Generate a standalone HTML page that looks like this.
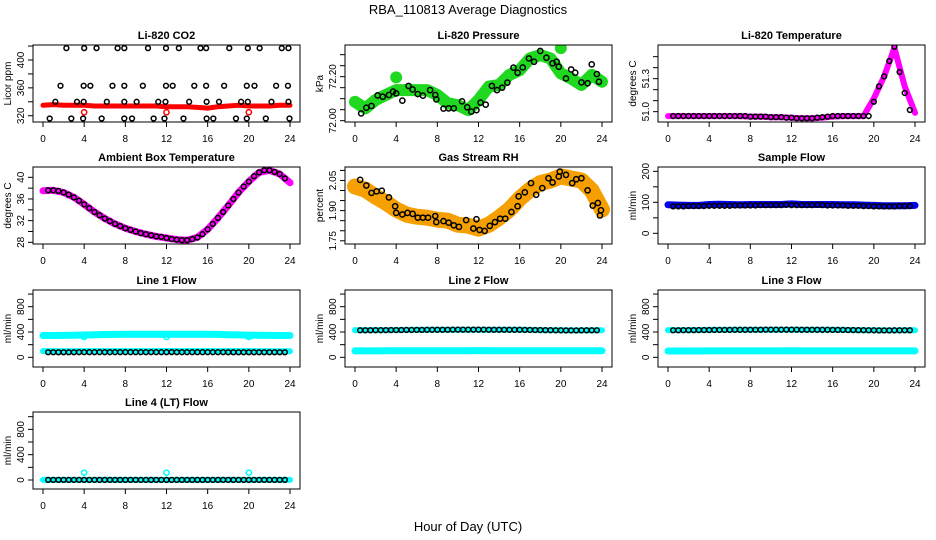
<!DOCTYPE html>
<html><head><meta charset="utf-8">
<style>
html,body{margin:0;padding:0;background:#fff;}
svg{display:block;font-family:"Liberation Sans",Arial,sans-serif;}
</style></head>
<body>
<svg id="chart" width="936" height="540" viewBox="0 0 936 540" xmlns="http://www.w3.org/2000/svg">
<rect x="0" y="0" width="936" height="540" fill="#fff"/>
<text x="468" y="14" text-anchor="middle" font-size="13">RBA_110813  Average Diagnostics</text>
<text x="468" y="531" text-anchor="middle" font-size="13">Hour of Day (UTC)</text>
</svg>
<script>
// ---------- data ----------
const xTicks = [0,4,8,12,16,20,24];
// CO2
const co2Band = [335,336,335,335,335,334,334,334,334,334,334,334,333,333,333,332,331,333,334,335,334,334,334,335,335];
const co2CircleHours = [2.27,4.0,5.2,7.25,7.9,10.2,11.95,13.2,15.3,15.85,18.1,19.9,21.05,23.2,23.85,
 1.7,3.95,4.6,6.75,7.9,9.7,11.95,12.6,14.7,15.85,17.6,19.8,20.55,22.65,23.8,
 1.2,3.3,3.95,6.2,7.9,9.1,11.2,11.9,14.2,15.9,17.1,19.25,19.9,22.2,23.85,
 0.65,2.75,3.9,5.7,7.9,8.65,10.75,11.8,13.65,15.9,16.55,18.75,19.8,21.65,23.95];
const co2CircleValues = [417,417,417,417,417,417,417,417,417,417,417,417,417,417,417,
 363,363,363,363,363,363,363,363,363,363,363,363,363,363,363,
 340,340,340,340,340,340,340,340,340,340,340,340,340,340,340,
 316,316,316,316,316,316,316,316,316,316,316,316,316,316,316];
const co2OutlierHours = [4,12,20];
const co2OutlierValues = [325,325,325];
// Pressure
const presBand = [72.086,72.056,72.094,72.117,72.139,72.139,72.139,72.139,72.117,72.079,72.071,72.048,72.094,72.155,72.162,72.208,72.230,72.283,72.298,72.283,72.215,72.192,72.162,72.208,72.177];
const presBlobHours = [4,20];
const presBlobValues = [72.197,72.33];
const presCircleHours = [0.6,1.1,1.6,2.2,2.7,3.3,3.7,4.0,4.6,5.2,5.6,6.1,6.6,7.3,7.8,7.9,8.6,9.1,9.6,10.4,10.9,11.3,11.8,12.2,12.7,13.3,13.8,14.3,14.8,15.4,15.8,16.3,16.9,17.4,18.0,18.6,19.2,19.6,19.8,20.5,21.0,21.4,22.0,22.6,23.0,23.5,23.7];
const presCircleValues = [72.033,72.059,72.067,72.115,72.109,72.117,72.132,72.124,72.091,72.158,72.142,72.121,72.114,72.139,72.117,72.097,72.055,72.056,72.056,72.088,72.061,72.041,72.048,72.082,72.073,72.158,72.139,72.150,72.173,72.241,72.218,72.242,72.283,72.268,72.317,72.286,72.261,72.268,72.245,72.192,72.233,72.218,72.174,72.170,72.256,72.212,72.177];
// Li-820 temperature
const tempBand = [50.96,50.96,50.96,50.96,50.96,50.96,50.96,50.96,50.955,50.955,50.95,50.95,50.945,50.94,50.94,50.945,50.955,50.96,50.96,50.96,51.12,51.32,51.58,51.23,50.99];
const tempCircles = [50.96,50.96,50.96,50.96,50.96,50.96,50.96,50.96,50.96,50.96,50.96,50.96,50.96,50.96,50.96,50.955,50.955,50.955,50.955,50.95,50.95,50.95,50.945,50.945,50.94,50.94,50.94,50.94,50.945,50.95,50.955,50.96,50.96,50.96,50.96,50.96,50.96,50.96,50.96,51.09,51.23,51.32,51.46,51.59,51.36,51.17,51.015];
// Ambient box temperature
const ambBand = [37.5,37.6,37.2,36.3,35.0,33.6,32.4,31.4,30.6,30.0,29.5,29.1,28.8,28.5,28.4,28.9,30.4,32.5,34.8,37.2,39.2,40.9,41.3,40.6,39.0];
const ambCircles = [37.6,37.6,37.5,37.2,36.8,36.3,35.7,35.0,34.3,33.6,33.0,32.4,31.9,31.4,31.0,30.6,30.3,30.0,29.7,29.5,29.3,29.1,29.0,28.8,28.6,28.5,28.4,28.4,28.6,28.9,29.5,30.4,31.4,32.5,33.6,34.8,36.0,37.2,38.3,39.2,40.2,40.9,41.3,41.3,41.0,40.6,39.8];
// Gas stream RH
const rhBand = [2.02,2.004,1.97,1.94,1.905,1.88,1.87,1.865,1.855,1.85,1.83,1.825,1.81,1.83,1.865,1.905,1.96,2.004,2.037,2.05,2.07,2.06,2.05,2.0,1.905];
const rhCircleHours = [0.5,1.1,1.6,2.1,2.6,3.3,3.9,4.0,4.6,5.1,5.6,6.1,6.6,7.1,7.8,7.9,8.6,9.1,9.6,10.1,10.8,11.8,11.5,12.1,12.6,13.1,13.6,14.1,14.6,15.2,15.8,15.9,16.5,17.1,17.6,18.2,18.8,19.2,19.8,19.9,20.5,21.1,21.5,22.0,22.6,23.1,23.6,23.8,23.9];
const rhCircleValues = [2.053,2.025,1.988,1.996,1.999,1.966,1.922,1.889,1.881,1.889,1.884,1.865,1.865,1.865,1.873,1.843,1.848,1.840,1.827,1.819,1.853,1.857,1.811,1.804,1.799,1.824,1.843,1.860,1.860,1.893,1.922,1.971,1.991,2.037,1.979,2.012,2.061,2.040,2.070,2.094,2.078,2.037,2.056,2.061,2.001,1.925,1.938,1.876,1.902];
// Sample flow
const sampleBand = [92,91,90,90,93,94,93,92,93,93,93,93,95,93,93,93,93,92,92,91,90,89,89,89,90];
const sampleCircles = [87,87,87,88,88,88,88,89,89,89,89,89,90,90,90,90,90,91,91,91,91,91,92,91,91,91,91,91,92,91,90,90,90,90,89,89,89,88,88,87,87,87,87,87,88,88,88];
// Line 1
const l1Upper = [345,345,346,348,352,356,360,362,364,365,365,366,366,366,365,365,364,362,358,354,350,348,346,345,345];
const l1Lower = [98,98,97,97,98,98,99,99,98,98,99,99,100,99,99,98,98,99,99,98,98,97,97,97,97];
const l1Circles = [80,80,80,80,80,80,81,81,81,81,81,81,81,81,81,81,81,81,81,81,81,81,81,81,82,81,81,81,81,81,81,81,81,81,81,80,80,80,80,80,80,80,80,80,80,80,80];
const l1OutlierHours = [4,12,20];
const l1OutlierValues = [322,322,322];
// Line 2
const l2Upper = [430,430,430,431,432,433,434,435,436,436,436,437,437,437,436,436,435,433,431,429,427,426,426,427,428];
const l2Lower = [102,102,102,103,104,103,103,103,103,103,103,104,106,104,103,103,103,103,103,103,103,103,103,103,103];
const l2Circles = [428,428,428,429,429,430,431,431,432,433,433,434,434,435,435,436,436,436,437,437,437,437,437,437,437,436,436,436,436,435,435,435,434,433,432,431,430,429,428,427,426,426,426,427,427,428,428];
// Line 3
const l3Upper = [430,430,431,432,433,434,435,436,436,436,437,437,437,437,436,436,435,433,431,429,427,426,426,427,428];
const l3Lower = [100,100,100,100,101,101,101,101,101,101,101,102,104,102,101,101,101,101,101,101,101,101,101,101,101];
const l3Circles = [428,428,429,429,430,431,431,432,433,433,434,434,435,435,435,436,436,436,437,437,437,437,437,437,437,436,436,436,436,435,435,434,434,433,432,431,430,429,428,427,426,426,426,427,427,428,428];
// Line 4
const l4Band = [2,2,2,2,2,2,2,2,2,2,2,2,2,2,2,2,2,2,2,2,2,2,2,2,2];
const l4Circles = [2,2,2,2,2,2,2,2,2,2,2,2,2,2,2,2,2,2,2,2,2,2,2,2,2,2,2,2,2,2,2,2,2,2,2,2,2,2,2,2,2,2,2,2,2,2,2];
const l4OutlierHours = [4,12,20];
const l4OutlierValues = [116,116,116];

// ---------- layout ----------
const NS = "http://www.w3.org/2000/svg";
const svg = document.getElementById('chart');
const BOXL = [33,345,658], BOXT = [45,167,290,412], BW = 267, BH = 77;
const bandHours = []; for (let i=0;i<=24;i++) bandHours.push(i);
const halfHours = []; for (let i=1;i<=47;i++) halfHours.push(i*0.5);
let clipId = 0;

function mk(tag, attrs, parent){
  const el = document.createElementNS(NS, tag);
  for (const k in attrs) el.setAttribute(k, attrs[k]);
  (parent||svg).appendChild(el);
  return el;
}

function panel(col,row,title,ylab,vTop,vBot,ticks,labels,name){
  const L = BOXL[col], T = BOXT[row];
  const g = mk('g',{});
  
  
  const x = h => L + 10 + h/24*(BW-20);
  const y = v => T + (vTop - v)/(vTop - vBot)*BH;
  const cid = 'clip' + (clipId++);
  const cp = mk('clipPath',{id:cid},g);
  mk('rect',{x:L,y:T,width:BW,height:BH},cp);
  const t = mk('text',{x:L+BW/2,y:T-6,'text-anchor':'middle','font-size':11,'font-weight':'bold'},g);
  t.textContent = title;
  
  
  const yl = mk('text',{transform:`translate(${L-22},${T+BH/2}) rotate(-90)`,'text-anchor':'middle','font-size':10},g);
  yl.textContent = ylab;
  
  
  // y ticks
  ticks.forEach((v,i)=>{
    const yy = y(v);
    if (yy < T-1 || yy > T+BH+1) return;
    const tk = mk('line',{x1:L-5,x2:L,y1:yy,y2:yy,stroke:'#000','stroke-width':1},g);
    
    
    if (labels[i]) {
      const lb = mk('text',{transform:`translate(${L-9},${yy}) rotate(-90)`,'text-anchor':'middle','font-size':10},g);
      lb.textContent = labels[i];
      
      
    }
  });
  xTicks.forEach(h=>{
    const xx = x(h);
    const tk = mk('line',{x1:xx,x2:xx,y1:T+BH,y2:T+BH+5,stroke:'#000','stroke-width':1},g);
    
    
    const lb = mk('text',{x:xx,y:T+BH+20,'text-anchor':'middle','font-size':10},g);
    lb.textContent = String(h);
    
    
  });
  const plot = mk('g',{'clip-path':`url(#${cid})`},g);
  
  
  const box = mk('rect',{x:L,y:T,width:BW,height:BH,fill:'none',stroke:'#000','stroke-width':1},g);
  
  
  return {x,y,plot,name};
}

function band(p,hours,vals,color,w,label){
  const pts = hours.map((h,i)=>p.x(h).toFixed(1)+','+p.y(vals[i]).toFixed(1)).join(' ');
  const pl = mk('polyline',{points:pts,fill:'none',stroke:color,'stroke-width':w,'stroke-linecap':'round','stroke-linejoin':'round'},p.plot);
  
  
}
function circles(p,hours,vals,color,r,label,sw){
  hours.forEach((h,i)=>{
    const c = mk('circle',{cx:p.x(h),cy:p.y(vals[i]),r:r,fill:'none',stroke:color,'stroke-width':sw||1.5},p.plot);
    
    
  });
}
function blobs(p,hours,vals,color,r,label){
  hours.forEach((h,i)=>{
    const c = mk('circle',{cx:p.x(h),cy:p.y(vals[i]),r:r,fill:color},p.plot);
    
    
  });
}

const flowTicks = [0,200,400,600,800,1000], flowLabels = ['0','','400','','800',''];

// CO2
let p = panel(0,0,'Li-820 CO2','Licor ppm',421.5,311,[320,340,360,380,400,420],['320','','360','','400',''],'co2');
band(p,bandHours,co2Band,'#ff0000',5,'band');
circles(p,co2OutlierHours,co2OutlierValues,'#ff0000',2.6,'outlier');
circles(p,co2CircleHours,co2CircleValues,'#000',2.4,'hourly-mean');
// Pressure
p = panel(1,0,'Li-820 Pressure','kPa',72.344,71.994,[72.00,72.05,72.10,72.15,72.20,72.25,72.30],['72.00','','','','72.20','',''],'pressure');
band(p,bandHours,presBand,'#1fd81f',12,'band');
blobs(p,presBlobHours,presBlobValues,'#1fd81f',6,'band-blob');
circles(p,presCircleHours,presCircleValues,'#000',2.6,'hourly-mean');
// Temp
p = panel(2,0,'Li-820 Temperature','degrees C',51.606,50.906,[51.0,51.1,51.2,51.3,51.4,51.5],['51.0','','','51.3','',''],'li820-temp');
band(p,bandHours,tempBand,'#ff00ff',6,'band');
circles(p,halfHours,tempCircles,'#000',2.4,'hourly-mean');
// Ambient
p = panel(0,1,'Ambient Box Temperature','degrees C',41.9,27.69,[28,30,32,34,36,38,40],['28','','32','','36','','40'],'ambient-temp');
band(p,bandHours,ambBand,'#ff00ff',7,'band');
circles(p,halfHours,ambCircles,'#000',2.4,'hourly-mean');
// RH
p = panel(1,1,'Gas Stream RH','percent',2.117,1.734,[1.75,1.80,1.85,1.90,1.95,2.00,2.05,2.10],['1.75','','','1.90','','','2.05',''],'gas-rh');
band(p,bandHours,rhBand,'#f5a000',16,'band');
circles(p,rhCircleHours,rhCircleValues,'#000',2.6,'hourly-mean');
// Sample flow
p = panel(2,1,'Sample Flow','ml/min',214,-34.5,[0,50,100,150,200],['0','','100','','200'],'sample-flow');
band(p,bandHours,sampleBand,'#0000ee',7,'band');
circles(p,halfHours,sampleCircles,'#000',2.4,'hourly-mean');
// Line 1
p = panel(0,2,'Line 1 Flow','ml/min',1064,-153,flowTicks,flowLabels,'line1-flow');
band(p,bandHours,l1Upper,'#00ffff',7,'band-upper');
band(p,bandHours,l1Lower,'#00ffff',6,'band-lower');
circles(p,l1OutlierHours,l1OutlierValues,'#00ffff',2.6,'outlier');
circles(p,halfHours,l1Circles,'#000',2.4,'hourly-mean');
// Line 2
p = panel(1,2,'Line 2 Flow','ml/min',1064,-153,flowTicks,flowLabels,'line2-flow');
band(p,bandHours,l2Upper,'#00ffff',6,'band-upper');
band(p,bandHours,l2Lower,'#00ffff',7,'band-lower');
circles(p,halfHours,l2Circles,'#000',2.4,'hourly-mean');
// Line 3
p = panel(2,2,'Line 3 Flow','ml/min',1064,-153,flowTicks,flowLabels,'line3-flow');
band(p,bandHours,l3Upper,'#00ffff',6,'band-upper');
band(p,bandHours,l3Lower,'#00ffff',7,'band-lower');
circles(p,halfHours,l3Circles,'#000',2.4,'hourly-mean');
// Line 4
p = panel(0,3,'Line 4 (LT) Flow','ml/min',1074,-142,flowTicks,flowLabels,'line4-flow');
band(p,bandHours,l4Band,'#00ffff',6,'band');
circles(p,l4OutlierHours,l4OutlierValues,'#00ffff',2.6,'outlier');
circles(p,halfHours,l4Circles,'#000',2.4,'hourly-mean');
</script>
</body></html>
